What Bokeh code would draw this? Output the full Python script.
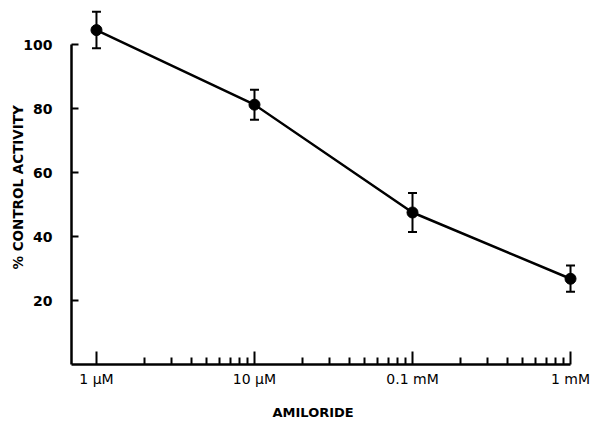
from bokeh.plotting import figure
from bokeh.models import (FixedTicker, Whisker, TeeHead, ColumnDataSource, Title, Range1d,
                          LinearAxis)
from bokeh.embed import file_html
from bokeh.resources import INLINE

# Data (amiloride concentration in µM)
conc_um = [1, 10, 100, 1000]
activity = [104.5, 81.2, 47.5, 26.8]
sem = [5.7, 4.7, 6.1, 4.1]
tick_values = [1, 10, 100, 1000]
tick_labels = ["1 μM", "10 μM", "0.1 mM", "1 mM"]
minor_values = [m * d for d in [1, 10, 100] for m in range(2, 10)]
y_ticks = [20, 40, 60, 80, 100]

src = ColumnDataSource(dict(
    x=conc_um, y=activity,
    upper=[a + s for a, s in zip(activity, sem)],
    lower=[a - s for a, s in zip(activity, sem)],
))

p = figure(width=591, height=421, x_axis_type="log",
           x_range=Range1d(0.695, 1244), y_range=Range1d(0, 112.19),
           output_backend="svg", toolbar_location=None,
           min_border_left=71, min_border_right=6, min_border_top=5, min_border_bottom=57)
p.outline_line_color = None
p.grid.visible = False
p.background_fill_color = "white"
p.border_fill_color = "white"

p.line("x", "y", source=src, line_color="black", line_width=2.5)
p.scatter("x", "y", source=src, size=11, fill_color="black", line_color="black")
w = Whisker(source=src, base="x", upper="upper", lower="lower",
            line_color="black", line_width=2,
            upper_head=TeeHead(size=9, line_color="black", line_width=2),
            lower_head=TeeHead(size=9, line_color="black", line_width=2))
p.add_layout(w)

xa = p.xaxis[0]
xa.ticker = FixedTicker(ticks=tick_values, minor_ticks=minor_values)
xa.major_label_overrides = {v: l for v, l in zip(tick_values, tick_labels)}
xa.bounds = (0.695, 1000)
xa.axis_line_width = 2.5
xa.major_tick_in = 13
xa.major_tick_out = 0
xa.minor_tick_in = 7
xa.minor_tick_out = 0
xa.major_tick_line_width = 2
xa.minor_tick_line_width = 2
xa.major_label_standoff = 6
xa.major_label_text_font = "DejaVu Sans"
xa.major_label_text_font_size = "14px"
xa.major_label_text_color = "black"

ya = p.yaxis[0]
ya.ticker = FixedTicker(ticks=y_ticks)
ya.bounds = (0, 100)
ya.axis_line_width = 2.5
ya.major_tick_in = 7
ya.major_tick_out = 0
ya.minor_tick_line_color = None
ya.major_tick_line_width = 2
ya.major_label_standoff = 19
ya.major_label_text_font = "DejaVu Sans"
ya.major_label_text_font_style = "bold"
ya.major_label_text_font_size = "14px"
ya.major_label_text_color = "black"
ya.axis_label = "% CONTROL  ACTIVITY"
ya.axis_label_standoff = -6
ya.axis_label_text_font = "DejaVu Sans"
ya.axis_label_text_font_style = "bold"
ya.axis_label_text_font_size = "13.5px"
ya.axis_label_text_color = "black"

# invisible spacer between the tick labels and the axis title
spacer = LinearAxis(ticker=FixedTicker(ticks=[tick_values[0]]), major_tick_in=0,
                    major_tick_out=13, minor_tick_in=0, minor_tick_out=0,
                    axis_line_color=None, major_tick_line_color="white",
                    minor_tick_line_color=None, major_label_standoff=0,
                    major_label_overrides={tick_values[0]: ""},
                    major_label_text_font_size="0px")
p.add_layout(spacer, "below")

p.add_layout(Title(text="AMILORIDE", align="left", offset=201, standoff=0,
                   text_font="DejaVu Sans", text_font_style="bold", text_font_size="13px",
                   text_color="black"), "below")

open("out.html", "w").write(file_html(p, INLINE))
